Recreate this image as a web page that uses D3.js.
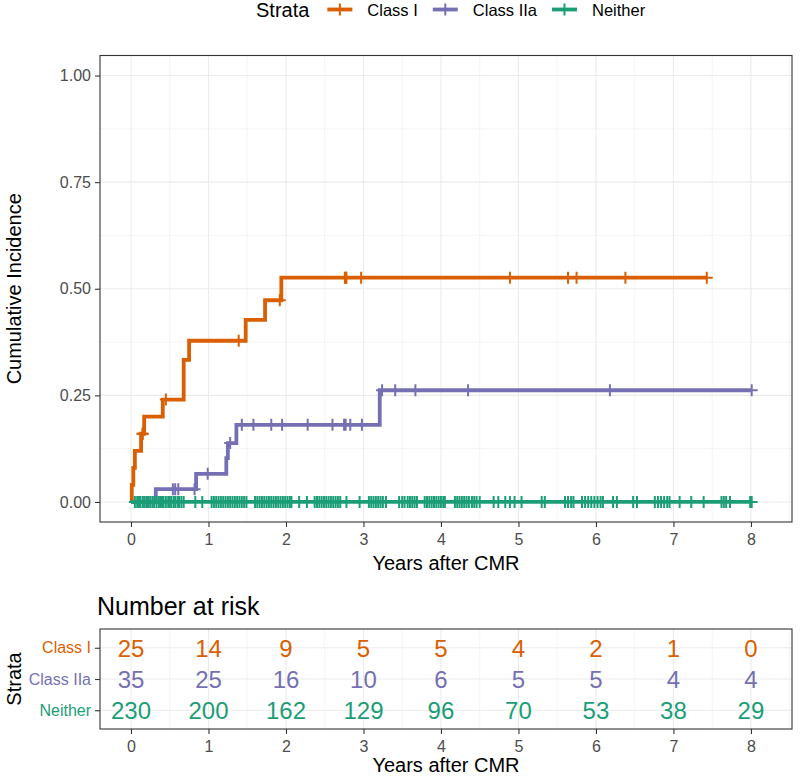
<!DOCTYPE html>
<html>
<head>
<meta charset="utf-8">
<script src="https://d3js.org/d3.v7.min.js"></script>
<style>
  body { margin: 0; background: #fff; }
  svg { font-family: "Liberation Sans", Arial, sans-serif; }
  .tick text { fill: #4D4D4D; font-size: 16px; }
  .tick line { stroke: #333333; }
  .grid-major { stroke: #EBEBEB; stroke-width: 1.1; }
  .grid-minor { stroke: #EBEBEB; stroke-width: 0.55; }
</style>
</head>
<body>
<div id="chart"></div>
<script>
// strata
const strata = ["Class I", "Class IIa", "Neither"];
const colors = ["#D95F02", "#7570B3", "#1B9E77"];

// event times and cumulative incidence after each event
const classIEventTimes = [0.01, 0.03, 0.05, 0.13, 0.17, 0.41, 0.68, 0.75, 1.48, 1.73, 1.94];
const classIIncidence  = [0.04, 0.08, 0.12, 0.16, 0.20, 0.24, 0.333, 0.378, 0.427, 0.473, 0.526];
const classICensor = [0.15, 0.15, 0.45, 1.39, 1.92, 2.76, 2.77, 2.78, 2.97, 4.89, 5.64, 5.75, 6.38, 7.43];

const classIIaEventTimes = [0.32, 0.84, 1.23, 1.25, 1.36, 3.21];
const classIIaIncidence  = [0.03, 0.066, 0.103, 0.138, 0.181, 0.262];
const classIIaCensor = [0.10, 0.20, 0.25, 0.54, 0.57, 0.61, 0.82, 0.99, 1.28, 1.43, 1.58, 1.81, 1.95,
  2.28, 2.60, 2.75, 2.77, 2.83, 2.98, 3.24, 3.41, 3.67, 4.35, 6.18, 8.01];

const neitherEventTimes = [];
const neitherIncidence = [];
const neitherCensor = [
  0.05, 0.08, 0.10, 0.12, 0.15, 0.17, 0.20, 0.22, 0.25, 0.28, 0.30, 0.33, 0.36, 0.38, 0.40, 0.42,
  0.45, 0.48, 0.50, 0.52, 0.55, 0.57, 0.60, 0.62, 0.65, 0.68, 0.83, 0.92,
  1.04, 1.07, 1.10, 1.13, 1.16, 1.19, 1.22, 1.25, 1.28, 1.31, 1.34, 1.37, 1.40, 1.43, 1.46, 1.49,
  1.60, 1.63, 1.66, 1.69, 1.72, 1.75, 1.78, 1.81, 1.84, 1.87, 1.90, 1.93, 1.96, 1.99,
  2.02, 2.05, 2.07, 2.17, 2.27, 2.37, 2.40, 2.43, 2.46, 2.49, 2.52, 2.55, 2.58, 2.61, 2.64, 2.67, 2.70, 2.78, 2.95,
  3.07, 3.10, 3.13, 3.16, 3.19, 3.22, 3.25, 3.29, 3.46, 3.50, 3.53, 3.57, 3.60, 3.63, 3.66, 3.69,
  3.79, 3.82, 3.85, 3.88, 3.91, 3.94, 3.97, 4.00,
  4.03, 4.05, 4.18, 4.21, 4.24, 4.27, 4.30, 4.33, 4.36, 4.40, 4.43, 4.46, 4.50, 4.68, 4.74, 4.83, 4.89, 4.95,
  5.04, 5.30, 5.34, 5.60, 5.64, 5.68, 5.71, 5.82, 5.86, 5.90, 5.94, 5.98, 6.02,
  6.06, 6.09, 6.22, 6.27, 6.48, 6.53, 6.76, 6.80, 6.84, 6.88, 6.92, 6.95,
  7.08, 7.23, 7.39, 7.62, 7.65, 7.68, 7.73, 7.99, 8.01
];

// axis ticks
const xTicks = [0, 1, 2, 3, 4, 5, 6, 7, 8];
const yTicks = [0, 0.25, 0.5, 0.75, 1];

// number at risk
const riskTimes = [0, 1, 2, 3, 4, 5, 6, 7, 8];
const riskClassI   = [25, 14, 9, 5, 5, 4, 2, 1, 0];
const riskClassIIa = [35, 25, 16, 10, 6, 5, 5, 4, 4];
const riskNeither  = [230, 200, 162, 129, 96, 70, 53, 38, 29];

const series = [
  {name: strata[0], color: colors[0], times: classIEventTimes, cif: classIIncidence, censor: classICensor, risk: riskClassI},
  {name: strata[1], color: colors[1], times: classIIaEventTimes, cif: classIIaIncidence, censor: classIIaCensor, risk: riskClassIIa},
  {name: strata[2], color: colors[2], times: neitherEventTimes, cif: neitherIncidence, censor: neitherCensor, risk: riskNeither}
];

const W = 800, H = 776;
const svg = d3.select("#chart").append("svg").attr("width", W).attr("height", H);

const panel = {left: 100, right: 792, top: 55.5, bottom: 522};
const x = d3.scaleLinear().domain([-0.4, 8.53]).range([panel.left, panel.right]);
const y = d3.scaleLinear().domain([-0.047, 1.047]).range([panel.bottom, panel.top]);

// grid
const main = svg.append("g");
const minorX = d3.range(-0.5, 9, 1).filter(v => x(v) > panel.left && x(v) < panel.right);
const minorY = [0.125, 0.375, 0.625, 0.875];
main.selectAll(".mx").data(minorX).join("line").attr("class", "grid-minor")
  .attr("x1", d => x(d)).attr("x2", d => x(d)).attr("y1", panel.top).attr("y2", panel.bottom);
main.selectAll(".my").data(minorY).join("line").attr("class", "grid-minor")
  .attr("y1", d => y(d)).attr("y2", d => y(d)).attr("x1", panel.left).attr("x2", panel.right);
main.selectAll(".gx").data(xTicks).join("line").attr("class", "grid-major")
  .attr("x1", d => x(d)).attr("x2", d => x(d)).attr("y1", panel.top).attr("y2", panel.bottom);
main.selectAll(".gy").data(yTicks).join("line").attr("class", "grid-major")
  .attr("y1", d => y(d)).attr("y2", d => y(d)).attr("x1", panel.left).attr("x2", panel.right);

// curves
const stepLine = d3.line().x(d => x(d.t)).y(d => y(d.p)).curve(d3.curveStepAfter);
const plus = "M-6,0H6M0,-6V6";

series.forEach(s => {
  const end = d3.max(s.censor.concat(s.times));
  const pts = [{t: 0, p: 0}];
  s.times.forEach((t, i) => pts.push({t: t, p: s.cif[i]}));
  pts.push({t: end, p: s.cif.length ? s.cif[s.cif.length - 1] : 0});
  s.pts = pts;
});

series.forEach(s => {
  main.append("path").datum(s.pts).attr("d", stepLine)
    .attr("fill", "none").attr("stroke", s.color).attr("stroke-width", 3.8);
  const valueAt = t => {
    let v = 0;
    s.times.forEach((et, i) => { if (et <= t) v = s.cif[i]; });
    return v;
  };
  main.selectAll(null).data(s.censor).join("path")
    .attr("d", plus)
    .attr("transform", d => `translate(${x(d)},${y(valueAt(d))})`)
    .attr("stroke", s.color).attr("stroke-width", 2).attr("fill", "none");
});

// border
main.append("rect").attr("x", panel.left).attr("y", panel.top)
  .attr("width", panel.right - panel.left).attr("height", panel.bottom - panel.top)
  .attr("fill", "none").attr("stroke", "#333333").attr("stroke-width", 1.1);

// axes
const yAxis = main.append("g").attr("transform", `translate(${panel.left},0)`)
  .call(d3.axisLeft(y).tickValues(yTicks).tickFormat(d3.format(".2f")).tickSize(5).tickPadding(4));
yAxis.select(".domain").remove();
const xAxis = main.append("g").attr("transform", `translate(0,${panel.bottom})`)
  .call(d3.axisBottom(x).tickValues(xTicks).tickFormat(d3.format("d")).tickSize(5).tickPadding(7));
xAxis.select(".domain").remove();
svg.selectAll(".tick line").attr("stroke", "#333333").attr("stroke-width", 1.1);
svg.selectAll(".tick text").attr("font-family", null).attr("font-size", null);

svg.append("text").attr("x", (panel.left + panel.right) / 2).attr("y", 570)
  .attr("text-anchor", "middle").attr("font-size", 20).text("Years after CMR");
svg.append("text").attr("transform", `translate(21,${(panel.top + panel.bottom) / 2}) rotate(-90)`)
  .attr("text-anchor", "middle").attr("font-size", 20).text("Cumulative Incidence");

// legend
const leg = svg.append("g").attr("transform", "translate(256,0)");
const legTitle = leg.append("text").attr("x", 0).attr("y", 17).attr("font-size", 20).text("Strata");
let lx = legTitle.node().getComputedTextLength() + 18;
series.forEach(s => {
  const g = leg.append("g").attr("transform", `translate(${lx},9.5)`);
  g.append("line").attr("x1", 0).attr("x2", 25).attr("stroke", s.color).attr("stroke-width", 3.8);
  g.append("path").attr("d", plus).attr("transform", "translate(12.5,0)")
    .attr("stroke", s.color).attr("stroke-width", 2);
  const t = g.append("text").attr("x", 40).attr("y", 6.5).attr("font-size", 16.5).text(s.name);
  lx += 40 + t.node().getComputedTextLength() + 15;
});

// risk table
const rp = {left: 100, right: 792, top: 629, bottom: 729};
const ry = d3.scalePoint().domain(strata).range([rp.top, rp.bottom]).padding(0.6);
const risk = svg.append("g");
svg.append("text").attr("x", 97).attr("y", 615).attr("font-size", 25).text("Number at risk");

risk.selectAll(".rmx").data(minorX).join("line").attr("class", "grid-minor")
  .attr("x1", d => x(d)).attr("x2", d => x(d)).attr("y1", rp.top).attr("y2", rp.bottom);
risk.selectAll(".rgx").data(xTicks).join("line").attr("class", "grid-major")
  .attr("x1", d => x(d)).attr("x2", d => x(d)).attr("y1", rp.top).attr("y2", rp.bottom);
risk.selectAll(".rgy").data(strata).join("line").attr("class", "grid-major")
  .attr("y1", d => ry(d)).attr("y2", d => ry(d)).attr("x1", rp.left).attr("x2", rp.right);

series.forEach(s => {
  risk.selectAll(null).data(riskTimes).join("text")
    .attr("x", d => x(d)).attr("y", ry(s.name)).attr("dy", "0.37em")
    .attr("text-anchor", "middle").attr("font-size", 24).attr("fill", s.color)
    .text((d, i) => s.risk[i]);
});

risk.append("rect").attr("x", rp.left).attr("y", rp.top)
  .attr("width", rp.right - rp.left).attr("height", rp.bottom - rp.top)
  .attr("fill", "none").attr("stroke", "#333333").attr("stroke-width", 1.1);

const ryAxis = risk.append("g").attr("transform", `translate(${rp.left},0)`)
  .call(d3.axisLeft(ry).tickSize(5).tickPadding(4));
ryAxis.select(".domain").remove();
ryAxis.selectAll(".tick text").attr("font-family", null).attr("font-size", null)
  .style("fill", (d, i) => colors[i]);
const rxAxis = risk.append("g").attr("transform", `translate(0,${rp.bottom})`)
  .call(d3.axisBottom(x).tickValues(xTicks).tickFormat(d3.format("d")).tickSize(5).tickPadding(7));
rxAxis.select(".domain").remove();
risk.selectAll(".tick line").attr("stroke", "#333333").attr("stroke-width", 1.1);
rxAxis.selectAll(".tick text").attr("font-family", null).attr("font-size", null);

svg.append("text").attr("x", (rp.left + rp.right) / 2).attr("y", 772)
  .attr("text-anchor", "middle").attr("font-size", 20).text("Years after CMR");
svg.append("text").attr("transform", `translate(21,${(rp.top + rp.bottom) / 2}) rotate(-90)`)
  .attr("text-anchor", "middle").attr("font-size", 20).text("Strata");
</script>
</body>
</html>
